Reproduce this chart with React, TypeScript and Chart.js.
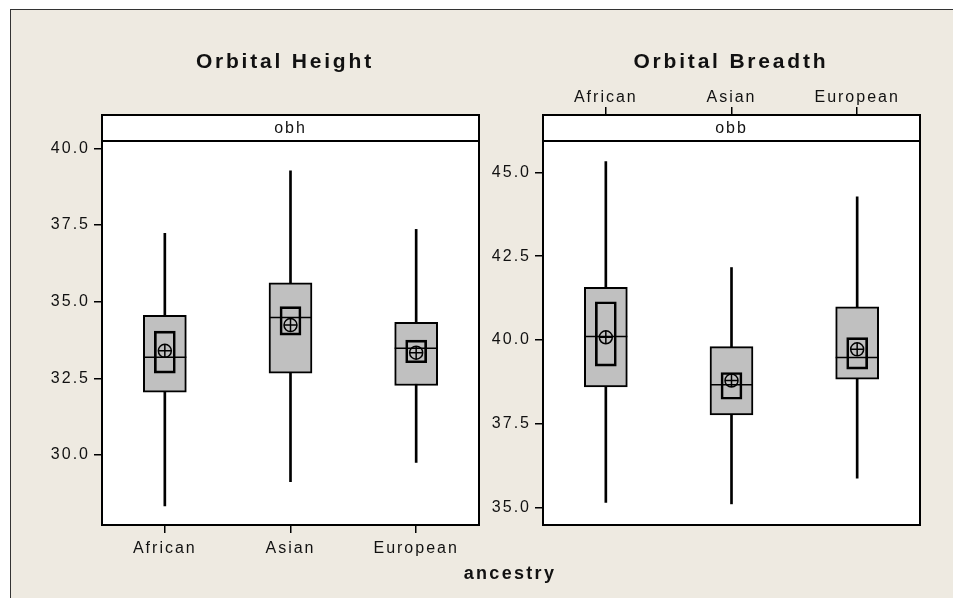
import React, { useEffect, useRef } from 'react';
import { Chart, registerables } from 'chart.js';

Chart.register(...registerables);

// ---------- data ----------
const categories = ['African', 'Asian', 'European'];

// Orbital Height (obh)
const obhWhiskerLow = [28.34, 29.13, 29.76];
const obhQ1 = [32.05, 32.67, 32.27];
const obhMedian = [33.19, 34.49, 33.48];
const obhQ3 = [34.56, 35.62, 34.33];
const obhWhiskerHigh = [37.23, 39.27, 37.36];
const obhMean = [33.4, 34.24, 33.34];
const obhCiLow = [32.67, 33.91, 33.01];
const obhCiHigh = [34.04, 34.84, 33.75];
const obhTicks = [30, 32.5, 35, 37.5, 40];
const obhMin = 27.72;
const obhMax = 41.09;

// Orbital Breadth (obb)
const obbWhiskerLow = [35.15, 35.11, 35.88];
const obbQ1 = [38.6, 37.76, 38.83];
const obbMedian = [40.1, 38.66, 39.48];
const obbQ3 = [41.57, 39.8, 40.99];
const obbWhiskerHigh = [45.32, 42.16, 44.27];
const obbMean = [40.08, 38.79, 39.72];
const obbCiLow = [39.22, 38.23, 39.13];
const obbCiHigh = [41.14, 39.03, 40.07];
const obbTicks = [35, 37.5, 40, 42.5, 45];
const obbMin = 34.48;
const obbMax = 46.71;

const FONT = '"Liberation Sans", Arial, sans-serif';
const INK = '#111';

const decorPlugin = {
  id: 'decor',
  beforeUpdate(chart: any) {
    chart.ctx.letterSpacing = '2px';
  },
  beforeDraw(chart: any) {
    const { ctx, chartArea: a } = chart;
    ctx.letterSpacing = '2px';
    ctx.save();
    ctx.fillStyle = '#ffffff';
    ctx.fillRect(a.left, a.top, a.right - a.left, a.bottom - a.top);
    ctx.restore();
  },
  afterDatasetsDraw(chart: any, _args: any, opts: any) {
    const { ctx, chartArea: a } = chart;
    const sh = opts.stripHeight;
    ctx.save();
    ctx.fillStyle = '#ffffff';
    ctx.fillRect(a.left, a.top, a.right - a.left, sh);
    ctx.strokeStyle = '#000';
    ctx.lineWidth = 2;
    ctx.beginPath();
    ctx.moveTo(a.left, a.top + sh);
    ctx.lineTo(a.right, a.top + sh);
    ctx.stroke();
    ctx.strokeRect(a.left, a.top, a.right - a.left, a.bottom - a.top);
    const cx = (a.left + a.right) / 2;
    ctx.fillStyle = INK;
    ctx.textAlign = 'center';
    ctx.textBaseline = 'middle';
    ctx.font = `16px ${FONT}`;
    ctx.letterSpacing = '2px';
    ctx.fillText(opts.strip, cx, a.top + sh / 2 + 1);
    ctx.font = `bold 21px ${FONT}`;
    ctx.letterSpacing = '2.8px';
    ctx.textBaseline = 'alphabetic';
    ctx.fillText(opts.title, cx + opts.titleShift + 1.4, opts.titleY);
    ctx.restore();
  },
};

function makeConfig(p: any) {
  const datasets: any[] = [
    {
      type: 'bar',
      data: p.low.map((v: number, i: number) => [v, p.high[i]]),
      backgroundColor: '#000',
      borderWidth: 0,
      barThickness: 2,
      grouped: false,
      order: 5,
    },
    {
      type: 'bar',
      data: p.q1.map((v: number, i: number) => [v, p.q3[i]]),
      backgroundColor: '#c0c0c0',
      borderColor: '#000',
      borderWidth: 2,
      borderSkipped: false,
      barThickness: 43,
      grouped: false,
      order: 4,
    },
    {
      type: 'bar',
      data: p.ciLow.map((v: number, i: number) => [v, p.ciHigh[i]]),
      backgroundColor: 'rgba(0,0,0,0)',
      borderColor: '#000',
      borderWidth: 2,
      borderSkipped: false,
      barThickness: 21,
      grouped: false,
      order: 3,
    },
    {
      type: 'line',
      data: p.median,
      showLine: false,
      pointStyle: 'line',
      pointRadius: 21.5,
      pointBorderWidth: 1.5,
      borderColor: '#000',
      pointBorderColor: '#000',
      order: 2,
    },
    {
      type: 'line',
      data: p.mean,
      showLine: false,
      pointStyle: 'circle',
      pointRadius: 6.5,
      pointBorderWidth: 1.5,
      pointBackgroundColor: 'rgba(0,0,0,0)',
      pointBorderColor: '#000',
      borderColor: '#000',
      order: 1,
    },
    {
      type: 'line',
      data: p.mean,
      showLine: false,
      pointStyle: 'cross',
      pointRadius: 6.5,
      pointBorderWidth: 1.5,
      pointBorderColor: '#000',
      borderColor: '#000',
      order: 0,
    },
  ];

  return {
    type: 'bar',
    data: { labels: categories, datasets },
    plugins: [decorPlugin],
    options: {
      responsive: false,
      animation: false,
      devicePixelRatio: 1,
      events: [],
      layout: { padding: p.padding, autoPadding: false },
      plugins: {
        legend: { display: false },
        tooltip: { enabled: false },
        decor: { title: p.title, strip: p.strip, stripHeight: 26, titleY: 67.7, titleShift: p.titleShift },
      },
      scales: {
        x: {
          type: 'category',
          position: p.xPosition,
          offset: true,
          grid: {
            display: true,
            offset: false,
            drawOnChartArea: false,
            drawTicks: true,
            tickLength: 8,
            color: '#000',
            lineWidth: 1.5,
          },
          border: { display: false },
          ticks: {
            font: { family: FONT, size: 16 },
            color: INK,
            padding: p.xPadding,
            maxRotation: 0,
            autoSkip: false,
          },
          afterFit: (s: any) => {
            s.height = p.xHeight;
            s.paddingLeft = 0;
            s.paddingRight = 0;
          },
        },
        y: {
          type: 'linear',
          min: p.min,
          max: p.max,
          afterBuildTicks: (s: any) => {
            s.ticks = p.ticks.map((v: number) => ({ value: v }));
          },
          grid: {
            display: true,
            drawOnChartArea: false,
            drawTicks: true,
            tickLength: 8,
            color: '#000',
            lineWidth: 1.5,
          },
          border: { display: false },
          ticks: {
            font: { family: FONT, size: 16 },
            color: INK,
            padding: 4,
            callback: (v: any) => Number(v).toFixed(1),
          },
          afterFit: (s: any) => {
            s.width = p.yWidth;
            s.paddingTop = 0;
            s.paddingBottom = 0;
          },
        },
      },
    },
  };
}

const leftPanel = {
  title: 'Orbital Height',
  strip: 'obh',
  low: obhWhiskerLow,
  q1: obhQ1,
  median: obhMedian,
  q3: obhQ3,
  high: obhWhiskerHigh,
  mean: obhMean,
  ciLow: obhCiLow,
  ciHigh: obhCiHigh,
  ticks: obhTicks,
  min: obhMin,
  max: obhMax,
  xPosition: 'bottom',
  xPadding: 6,
  xHeight: 75,
  yWidth: 102,
  titleShift: -7,
  padding: { top: 115, right: 1, bottom: 0, left: 0 },
};

const rightPanel = {
  title: 'Orbital Breadth',
  strip: 'obb',
  low: obbWhiskerLow,
  q1: obbQ1,
  median: obbMedian,
  q3: obbQ3,
  high: obbWhiskerHigh,
  mean: obbMean,
  ciLow: obbCiLow,
  ciHigh: obbCiHigh,
  ticks: obbTicks,
  min: obbMin,
  max: obbMax,
  xPosition: 'top',
  xPadding: 0,
  xHeight: 40,
  yWidth: 63,
  titleShift: -2,
  padding: { top: 75, right: 33, bottom: 75, left: 0 },
};

export default function App() {
  const leftRef = useRef<HTMLCanvasElement | null>(null);
  const rightRef = useRef<HTMLCanvasElement | null>(null);

  useEffect(() => {
    Chart.defaults.font.family = FONT;
    Chart.defaults.color = INK;
    const c1 = new Chart(leftRef.current as HTMLCanvasElement, makeConfig(leftPanel) as any);
    const c2 = new Chart(rightRef.current as HTMLCanvasElement, makeConfig(rightPanel) as any);
    return () => {
      c1.destroy();
      c2.destroy();
    };
  }, []);

  return (
    <div style={{ position: 'absolute', left: 0, top: 0, width: 953, height: 600, overflow: 'hidden', background: '#fff' }}>
      <div
        style={{
          position: 'absolute',
          left: 10,
          top: 9,
          width: 943,
          height: 589,
          boxSizing: 'border-box',
          background: '#eeeae1',
          borderTop: '1px solid #333',
          borderLeft: '1px solid #333',
        }}
      />
      <canvas
        ref={leftRef}
        width={480}
        height={600}
        style={{ position: 'absolute', left: 0, top: 0, width: 480, height: 600, display: 'block' }}
      />
      <canvas
        ref={rightRef}
        width={473}
        height={600}
        style={{ position: 'absolute', left: 480, top: 0, width: 473, height: 600, display: 'block' }}
      />
      <div
        style={{
          position: 'absolute',
          left: 410,
          top: 564,
          width: 200,
          textAlign: 'center',
          fontFamily: FONT,
          fontWeight: 'bold',
          fontSize: 18,
          lineHeight: '18px',
          letterSpacing: '2.3px',
          color: INK,
        }}
      >
        ancestry
      </div>
    </div>
  );
}
